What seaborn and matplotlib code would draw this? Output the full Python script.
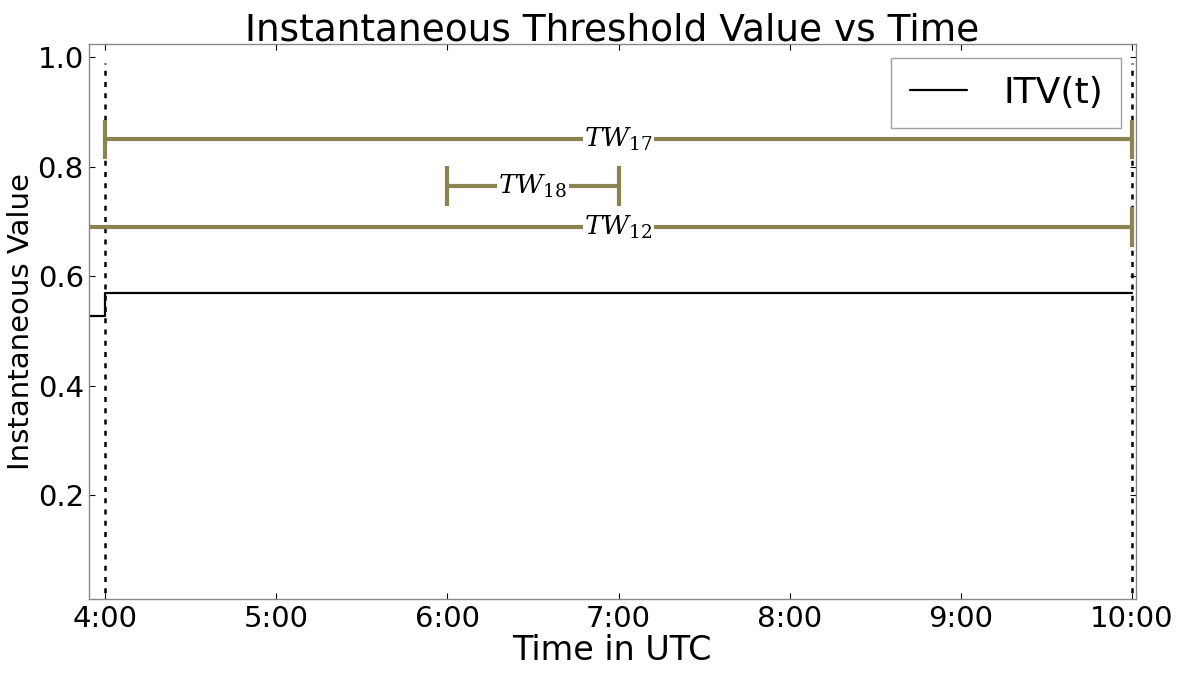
import numpy as np
import pandas as pd
import seaborn as sns
import matplotlib.pyplot as plt
from matplotlib.ticker import FixedLocator, FuncFormatter

# ITV step series (hours UTC, value)
itv_hours = [3.9, 4.0, 10.0]
itv_values = [0.528, 0.57, 0.57]

# time windows: name, start hour, end hour, level
tw_names = ["$TW_{17}$", "$TW_{18}$", "$TW_{12}$"]
tw_start = [4.0, 6.0, 3.5]
tw_end = [10.0, 7.0, 10.0]
tw_level = [0.85, 0.765, 0.69]

marker_hours = [4.0, 10.0]
tick_hours = [4, 5, 6, 7, 8, 9, 10]

olive = "#8a8550"

sns.set_style("white")
plt.rcParams["font.family"] = ["DejaVu Sans"]
plt.rcParams["mathtext.fontset"] = "dejavuserif"
plt.rcParams["text.color"] = "black"
plt.rcParams["axes.labelcolor"] = "black"
plt.rcParams["xtick.color"] = "black"
plt.rcParams["ytick.color"] = "black"

fig, ax = plt.subplots(figsize=(11.82, 6.73), dpi=100)
fig.subplots_adjust(left=0.075, right=0.961, top=0.935, bottom=0.11)

df = pd.DataFrame({"hour": itv_hours, "value": itv_values})
sns.lineplot(data=df, x="hour", y="value", drawstyle="steps-post",
             color="black", linewidth=1.6, label="ITV(t)", ax=ax)

for h in marker_hours:
    ax.vlines(h, 0, 0.99, colors="black", linestyles=(0, (2, 2.5)), linewidth=1.8)

for name, s, e, lvl in zip(tw_names, tw_start, tw_end, tw_level):
    ax.plot([s, e], [lvl, lvl], color=olive, linewidth=3)
    ax.vlines([s, e], lvl - 0.036, lvl + 0.036, colors=olive, linewidth=3)
    mid = (max(s, 4.0) + e) / 2
    ax.text(mid, lvl, name, ha="center", va="center", fontsize=19,
            bbox=dict(facecolor="white", edgecolor="none", pad=1))

ax.set_xlim(3.902, 10.025)
ax.set_ylim(0.01, 1.025)
ax.xaxis.set_major_locator(FixedLocator(tick_hours))
ax.xaxis.set_major_formatter(FuncFormatter(lambda v, p: f"{int(round(v))}:00"))
ax.set_yticks([0.2, 0.4, 0.6, 0.8, 1.0])
ax.tick_params(axis="both", direction="in", labelsize=21, length=4,
               bottom=True, left=True, top=True, right=True)
ax.tick_params(axis="x", pad=4)

for sp in ax.spines.values():
    sp.set_color("#888888")
    sp.set_linewidth(1.0)

ax.set_title("Instantaneous Threshold Value vs Time", fontsize=27, pad=2)
ax.set_xlabel("Time in UTC", fontsize=24, labelpad=1)
ax.set_ylabel("Instantaneous Value", fontsize=21, labelpad=2)

leg = ax.legend(loc="upper right", fontsize=26, handlelength=1.6, handletextpad=1.0,
                borderpad=0.5, borderaxespad=0, fancybox=False, frameon=True,
                bbox_to_anchor=(0.986, 0.975))
leg.get_frame().set_edgecolor("#888888")
leg.get_frame().set_linewidth(1.0)

fig.savefig("out.png", dpi=100)
